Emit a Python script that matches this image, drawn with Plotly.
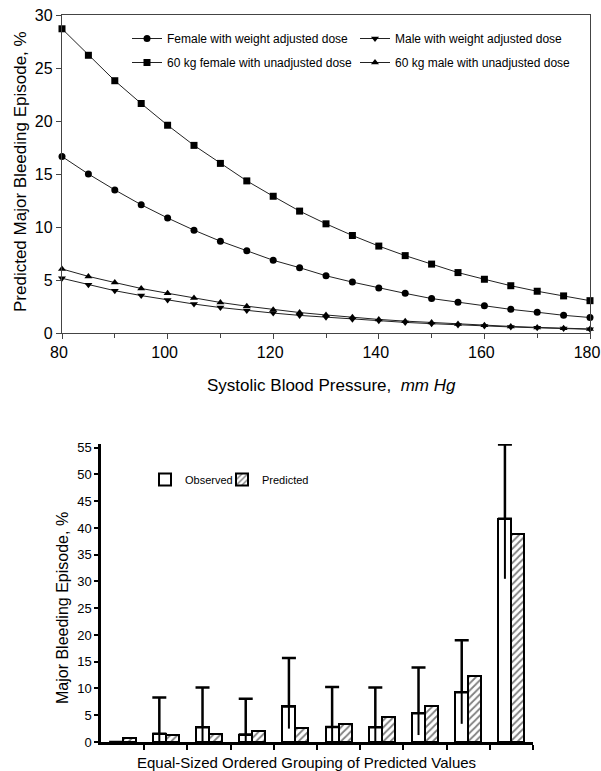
import plotly.graph_objects as go

# ---------------- data: top panel ----------------
sbp = [80, 85, 90, 95, 100, 105, 110, 115, 120, 125, 130,
       135, 140, 145, 150, 155, 160, 165, 170, 175, 180]
female_adj = [16.65, 15.0, 13.5, 12.1, 10.85, 9.7, 8.66, 7.75, 6.86, 6.16, 5.4,
              4.8, 4.25, 3.74, 3.25, 2.9, 2.58, 2.23, 1.96, 1.67, 1.46]
male_adj = [5.16, 4.55, 3.99, 3.53, 3.11, 2.73, 2.4, 2.12, 1.88, 1.66, 1.48,
            1.3, 1.15, 1.0, 0.88, 0.76, 0.66, 0.57, 0.49, 0.42, 0.35]
female_60 = [28.7, 26.2, 23.8, 21.65, 19.6, 17.7, 16.0, 14.35, 12.9, 11.5, 10.3,
             9.2, 8.2, 7.3, 6.5, 5.7, 5.07, 4.46, 3.94, 3.5, 3.05]
male_60 = [6.04, 5.34, 4.76, 4.2, 3.75, 3.3, 2.88, 2.53, 2.2, 1.93, 1.7,
           1.48, 1.28, 1.12, 0.98, 0.85, 0.73, 0.62, 0.53, 0.45, 0.38]

# ---------------- data: bottom panel ----------------
groups = [1, 2, 3, 4, 5, 6, 7, 8, 9, 10]
observed = [0.0, 1.55, 2.75, 1.4, 6.65, 2.8, 2.75, 5.35, 9.3, 41.7]
predicted = [0.85, 1.23, 1.55, 2.0, 2.6, 3.3, 4.6, 6.8, 12.4, 38.9]
obs_upper = [0.0, 8.3, 10.2, 8.1, 15.7, 10.3, 10.2, 13.9, 19.0, 55.6]
obs_lower = [0.0, 0.0, 0.0, 0.0, 2.5, 0.0, 0.0, 1.3, 3.4, 30.5]

W, H = 601, 771
FONT = "Liberation Sans, Arial, sans-serif"


def px_x(p):
    return p / W


def px_y(p):
    return 1 - p / H


fig = go.Figure()

line_style = dict(color="#222", width=1)
series = [
    ("Female with weight adjusted dose", female_adj, "circle", 7, "legend"),
    ("Male with weight adjusted dose", male_adj, "triangle-down", 7, "legend2"),
    ("60 kg female with unadjusted dose", female_60, "square", 7, "legend"),
    ("60 kg male with unadjusted dose", male_60, "triangle-up", 7, "legend2"),
]
for i, (name, vals, sym, size, lg) in enumerate(series):
    fig.add_trace(go.Scatter(
        x=sbp, y=vals, name=name, mode="lines+markers",
        line=line_style,
        marker=dict(symbol=sym, size=size, color="black"),
        xaxis="x", yaxis="y", legend=lg, legendgroup=f"g{i}",
        cliponaxis=False,
    ))

# bottom bars
obs_x = [g - 0.15 for g in groups]
pred_x = [g + 0.15 for g in groups]
fig.add_trace(go.Bar(
    x=obs_x, y=observed, width=0.3, name="Observed",
    marker=dict(color="white", line=dict(color="black", width=2)),
    xaxis="x2", yaxis="y2", legend="legend3",
))
fig.add_trace(go.Bar(
    x=pred_x, y=predicted, width=0.3, name="Predicted",
    marker=dict(color="white", line=dict(color="black", width=2),
                pattern=dict(shape="/", fgcolor="black", bgcolor="white",
                             size=5, solidity=0.35)),
    xaxis="x2", yaxis="y2", legend="legend4",
))
# upper error (with cap)
fig.add_trace(go.Scatter(
    x=obs_x, y=observed, mode="markers",
    marker=dict(size=1, color="rgba(0,0,0,0)"),
    error_y=dict(type="data", symmetric=False,
                 array=[u - o for u, o in zip(obs_upper, observed)],
                 arrayminus=[0] * len(groups),
                 width=7, thickness=2.5, color="black"),
    xaxis="x2", yaxis="y2", showlegend=False, cliponaxis=False,
    hoverinfo="skip",
))
# lower error (no cap)
fig.add_trace(go.Scatter(
    x=obs_x, y=observed, mode="markers",
    marker=dict(size=1, color="rgba(0,0,0,0)"),
    error_y=dict(type="data", symmetric=False,
                 array=[0] * len(groups),
                 arrayminus=[o - l for o, l in zip(observed, obs_lower)],
                 width=0, thickness=2, color="black"),
    xaxis="x2", yaxis="y2", showlegend=False, cliponaxis=False,
    hoverinfo="skip",
))

top_axis = dict(showline=True, linecolor="#444", linewidth=1.3, mirror=True,
                showgrid=False, zeroline=False, ticks="outside", ticklen=5,
                tickcolor="#444", tickfont=dict(size=16, color="black"),
                automargin=False)

# bottom y: keep 55 at the reference's top tick, let the range run a bit above
y2_top_val = 55.7
y2_bottom_px, y2_55_px = 742.0, 447.7
y2_top_px = y2_bottom_px - (y2_bottom_px - y2_55_px) * y2_top_val / 55

leg_common = dict(xanchor="left", yanchor="top", bgcolor="rgba(0,0,0,0)")

fig.update_layout(
    width=W, height=H,
    margin=dict(l=0, r=0, t=0, b=0, autoexpand=False),
    paper_bgcolor="white", plot_bgcolor="white",
    font=dict(family=FONT, color="black"),
    showlegend=True,
    bargap=0,
    xaxis=dict(domain=[px_x(62), px_x(590)], range=[80, 180], anchor="y",
               dtick=20, tick0=80, ticklabelshift=-3,
               ticklabeloverflow="allow",
               minor=dict(dtick=10, ticks="outside", ticklen=4, tickcolor="#444"),
               **top_axis),
    yaxis=dict(domain=[px_y(333), px_y(15)], range=[0, 30], anchor="x",
               dtick=5, **top_axis),
    xaxis2=dict(domain=[px_x(101), px_x(533)], range=[0.5, 10.5], anchor="y2",
                showline=True, linecolor="black", linewidth=2.5,
                showgrid=False, zeroline=False, ticks="outside", ticklen=5,
                tickwidth=1.5, tickcolor="black", automargin=False,
                tickvals=[g + 0.5 for g in groups], showticklabels=False),
    yaxis2=dict(domain=[px_y(y2_bottom_px), px_y(y2_top_px)],
                range=[0, y2_top_val], anchor="x2",
                showline=True, linecolor="black", linewidth=2.5,
                showgrid=False, zeroline=False, ticks="outside", ticklen=4,
                tickwidth=1.5, tickcolor="black", dtick=5, automargin=False,
                tickfont=dict(size=13, color="black")),
    legend=dict(x=px_x(127), y=px_y(24), font=dict(size=12),
                traceorder="grouped", tracegroupgap=5, itemwidth=30,
                **leg_common),
    legend2=dict(x=px_x(355), y=px_y(24), font=dict(size=12),
                 traceorder="grouped", tracegroupgap=5, itemwidth=30,
                 **leg_common),
    legend3=dict(x=px_x(145), y=px_y(465), font=dict(size=11), **leg_common),
    legend4=dict(x=px_x(222), y=px_y(465), font=dict(size=11), **leg_common),
    annotations=[
        dict(text="Predicted Major Bleeding Episode, %", x=px_x(20), y=px_y(172),
             xref="paper", yref="paper", textangle=-90, showarrow=False,
             xanchor="center", yanchor="middle", font=dict(size=17)),
        dict(text="Systolic Blood Pressure,  <i>mm Hg</i>", x=px_x(331), y=px_y(385),
             xref="paper", yref="paper", showarrow=False,
             xanchor="center", yanchor="middle", font=dict(size=17)),
        dict(text="Major Bleeding Episode, %", x=px_x(62), y=px_y(608),
             xref="paper", yref="paper", textangle=-90, showarrow=False,
             xanchor="center", yanchor="middle", font=dict(size=16)),
        dict(text="Equal-Sized Ordered Grouping of Predicted Values",
             x=px_x(306), y=px_y(762), xref="paper", yref="paper",
             showarrow=False, xanchor="center", yanchor="middle",
             font=dict(size=15)),
    ],
)

fig.write_html("out.html")
